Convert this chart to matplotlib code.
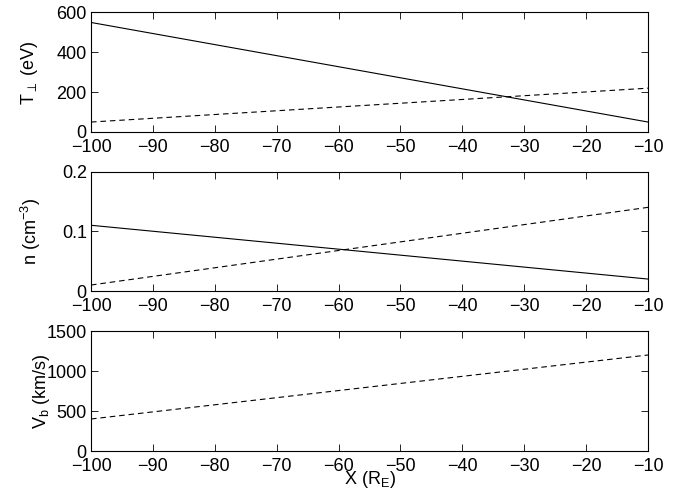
import matplotlib
matplotlib.use("Agg")
import matplotlib.pyplot as plt

plt.rcParams['font.family'] = ['Liberation Sans', 'DejaVu Sans']
plt.rcParams['mathtext.fontset'] = 'custom'
plt.rcParams['mathtext.rm'] = 'Liberation Sans'
plt.rcParams['mathtext.it'] = 'Liberation Sans'
plt.rcParams['mathtext.sf'] = 'Liberation Sans'

# data (straight lines, endpoints only)
x = [-100, -10]
t_perp_solid = [550, 50]
t_perp_dashed = [50, 220]
n_solid = [0.11, 0.02]
n_dashed = [0.01, 0.14]
vb_dashed = [400, 1200]

xticks = [-100, -90, -80, -70, -60, -50, -40, -30, -20, -10]

fig = plt.figure(figsize=(6.86, 4.98), dpi=100)
W, H = 686, 498
left, right = 91, 648
boxes = [(12.5, 132), (171.5, 291), (331, 451)]  # top, bottom pixel rows
axes = []
for top, bot in boxes:
    ax = fig.add_axes([left / W, 1 - bot / H, (right - left) / W, (bot - top) / H])
    axes.append(ax)

dash = (0, (5, 3.5))
ax1, ax2, ax3 = axes
ax1.plot(x, t_perp_solid, color='black', lw=0.8)
ax1.plot(x, t_perp_dashed, color='black', lw=0.8, linestyle=dash)
ax1.set_ylim(0, 600)
ax1.set_yticks([0, 200, 400, 600])
ax1.set_ylabel(r'T$_{\perp}$ (eV)')

ax2.plot(x, n_solid, color='black', lw=0.8)
ax2.plot(x, n_dashed, color='black', lw=0.8, linestyle=dash)
ax2.set_ylim(0, 0.2)
ax2.set_yticks([0, 0.1, 0.2])
ax2.set_yticklabels(['0', '0.1', '0.2'])
ax2.set_ylabel(r'n (cm$^{-3}$)')

ax3.plot(x, vb_dashed, color='black', lw=0.8, linestyle=dash)
ax3.set_ylim(0, 1500)
ax3.set_yticks([0, 500, 1000, 1500])
ax3.set_ylabel(r'V$_{b}$ (km/s)')
ax3.set_xlabel(r'X (R$_{E}$)')

# label positions (axes fraction) to sit where the reference has them
w = right - left
ax1.yaxis.set_label_coords((40 - left) / w, 0.5)
ax2.yaxis.set_label_coords((43 - left) / w, 0.5)
ax3.yaxis.set_label_coords((52 - left) / w, 0.5)
ax3.xaxis.set_label_coords(0.5, -(469 - 451) / 120)

for ax in axes:
    ax.set_xlim(-100, -10)
    ax.set_xticks(xticks)
    ax.set_xticklabels([str(v).replace('-', '\u2212') for v in xticks])
    ax.tick_params(direction='in', top=True, right=True, length=5, width=0.6,
                   labelsize=13)
    ax.tick_params(axis='x', pad=5)
    ax.tick_params(axis='y', pad=3)
    ax.yaxis.label.set_size(13)
    ax.xaxis.label.set_size(13)
    for s in ax.spines.values():
        s.set_linewidth(0.8)

fig.savefig('out.png', dpi=100)
